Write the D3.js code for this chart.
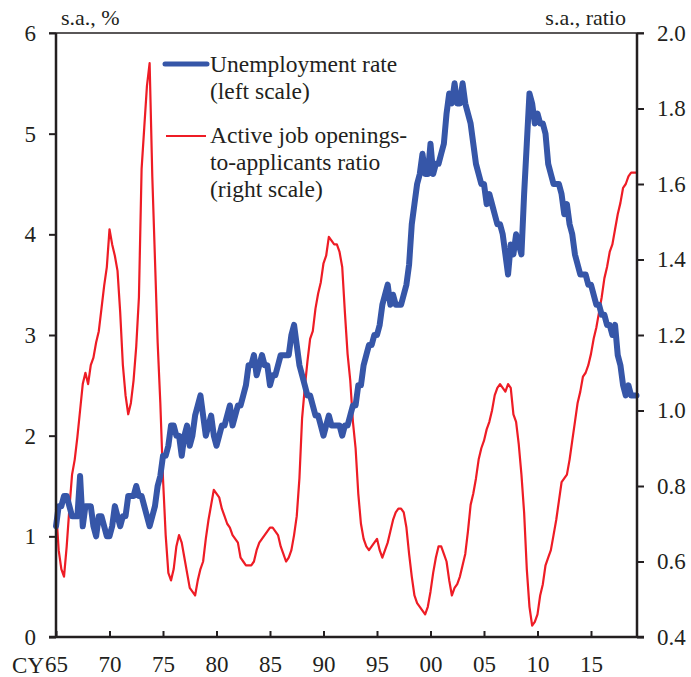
<!DOCTYPE html>
<html lang="en">
<head>
	<meta charset="UTF-8"/>
	<title>Unemployment rate and job openings-to-applicants ratio</title>
	<script src="https://d3js.org/d3.v7.min.js"></script>
	<style>
		body {
			margin: 0;
			background: #fff;
		}
		text {
			font-family: "Liberation Serif", "Times New Roman", serif;
			fill: #231f20;
		}
	</style>
</head>
<body>
	<script>
		// quarterly values, first point = 1965 Q1
		var startYear = 1965;
		var unempRate = [
			1.1,1.3,1.3,1.4,  1.4,1.3,1.2,1.2,  1.2,1.6,1.1,1.3,  1.3,1.3,1.1,1.0,
			1.2,1.2,1.1,1.0,  1.0,1.1,1.3,1.2,  1.1,1.2,1.2,1.4,  1.4,1.4,1.5,1.4,
			1.4,1.3,1.2,1.1,  1.2,1.3,1.5,1.6,  1.8,1.8,1.9,2.1,  2.1,2.0,2.0,1.8,
			2.0,2.1,1.9,2.0,  2.2,2.3,2.4,2.2,  2.0,2.1,2.2,2.0,  1.9,2.0,2.1,2.1,
			2.2,2.3,2.1,2.2,  2.3,2.3,2.4,2.5,  2.7,2.7,2.8,2.6,  2.7,2.8,2.7,2.7,
			2.5,2.6,2.6,2.7,  2.8,2.8,2.8,2.8,  3.0,3.1,2.9,2.7,  2.6,2.5,2.4,2.4,
			2.3,2.2,2.2,2.1,  2.0,2.1,2.2,2.1,  2.1,2.1,2.1,2.0,  2.1,2.1,2.2,2.3,
			2.3,2.5,2.5,2.7,  2.8,2.9,2.9,3.0,  3.0,3.1,3.3,3.4,  3.5,3.3,3.4,3.3,
			3.3,3.3,3.4,3.5,  3.7,4.1,4.3,4.5,  4.6,4.8,4.6,4.6,  4.9,4.6,4.7,4.7,
			4.8,4.9,5.2,5.4,  5.3,5.5,5.3,5.3,  5.5,5.3,5.2,5.1,  4.9,4.7,4.6,4.5,
			4.5,4.3,4.4,4.3,  4.2,4.1,4.1,4.0,  3.8,3.6,3.9,3.8,  4.0,3.9,3.8,4.4,
			4.9,5.4,5.3,5.1,  5.2,5.1,5.1,5.0,  4.7,4.6,4.5,4.5,  4.5,4.4,4.2,4.3,
			4.1,4.0,3.8,3.7,  3.6,3.6,3.6,3.5,  3.5,3.4,3.3,3.3,  3.2,3.2,3.1,3.1,
			3.0,3.1,2.8,2.7,  2.5,2.4,2.5,2.4,  2.4,2.4
		];
		var jobRatio = [
			0.74,0.63,0.58,0.56,  0.64,0.74,0.83,0.87,  0.93,1.00,1.07,1.10,  1.07,1.12,1.14,1.18,
			1.21,1.27,1.33,1.38,  1.48,1.44,1.41,1.37,  1.26,1.12,1.04,0.99,  1.02,1.08,1.17,1.30,
			1.64,1.75,1.86,1.92,  1.62,1.40,1.18,1.02,  0.82,0.67,0.57,0.55,  0.58,0.64,0.67,0.65,
			0.61,0.57,0.53,0.52,  0.51,0.55,0.58,0.60,  0.66,0.71,0.75,0.79,  0.78,0.77,0.74,0.72,
			0.70,0.69,0.67,0.66,  0.65,0.61,0.60,0.59,  0.59,0.59,0.60,0.63,  0.65,0.66,0.67,0.68,
			0.69,0.69,0.68,0.67,  0.64,0.62,0.60,0.61,  0.63,0.67,0.72,0.82,  0.98,1.06,1.13,1.19,
			1.21,1.27,1.31,1.34,  1.39,1.41,1.46,1.45,  1.44,1.44,1.42,1.38,  1.26,1.15,1.08,0.97,
			0.90,0.78,0.70,0.66,  0.64,0.63,0.64,0.65,  0.66,0.63,0.61,0.63,  0.65,0.68,0.71,0.73,
			0.74,0.74,0.73,0.69,  0.62,0.56,0.51,0.49,  0.48,0.47,0.46,0.48,  0.52,0.57,0.61,0.64,
			0.64,0.62,0.60,0.55,  0.51,0.53,0.54,0.56,  0.59,0.62,0.68,0.75,  0.78,0.82,0.87,0.90,
			0.92,0.95,0.97,1.00,  1.04,1.06,1.07,1.06,  1.05,1.07,1.06,0.99,  0.97,0.91,0.83,0.73,
			0.58,0.48,0.43,0.44,  0.46,0.51,0.54,0.59,  0.61,0.63,0.67,0.71,  0.76,0.81,0.82,0.83,
			0.87,0.92,0.97,1.02,  1.05,1.09,1.10,1.12,  1.15,1.19,1.22,1.26,  1.30,1.35,1.38,1.42,
			1.44,1.48,1.52,1.55,  1.59,1.60,1.62,1.63,  1.63,1.63
		];
		var xTickYears = [1965,1970,1975,1980,1985,1990,1995,2000,2005,2010,2015];
		var xTickLabels = ["65","70","75","80","85","90","95","00","05","10","15"];
		var leftTicks = [0,1,2,3,4,5,6];
		var rightTicks = [0.4,0.6,0.8,1.0,1.2,1.4,1.6,1.8,2.0];

		var w = 691;
		var h = 677;
		var mLeft = 56, mRight = 637, mTop = 33, mBottom = 637;
		var blue = "#3656a8";
		var red = "#ee1c25";
		var ink = "#231f20";

		var svg = d3.select("body").append("svg").attr("width",w).attr("height",h);

		var xScale = d3.scaleLinear()
						.domain([1965, 2019.3])
						.range([mLeft, mRight]);

		var yLeft = d3.scaleLinear()
						.domain([0,6])
						.range([mBottom, mTop]);

		var yRight = d3.scaleLinear()
						.domain([0.4,2.0])
						.range([mBottom, mTop]);

		// lines
		var lineU = d3.line()
			.x(function(d,i){ return xScale(startYear + i/4); })
			.y(function(d){ return yLeft(d); });

		var lineJ = d3.line()
			.x(function(d,i){ return xScale(startYear + i/4); })
			.y(function(d){ return yRight(d); });

		svg.append("path")
			.datum(jobRatio)
			.attr("d",lineJ)
			.attr("fill","none")
			.attr("stroke",red)
			.attr("stroke-width",2.2)
			.attr("stroke-linejoin","round");

		svg.append("path")
			.datum(unempRate)
			.attr("d",lineU)
			.attr("fill","none")
			.attr("stroke",blue)
			.attr("stroke-width",6)
			.attr("stroke-linejoin","round")
			.attr("stroke-linecap","round");

		// axes
		var axisLeft = d3.axisLeft(yLeft).tickValues(leftTicks).tickSize(7).tickPadding(13)
			.tickFormat(d3.format("d"));
		var axisRight = d3.axisRight(yRight).tickValues(rightTicks).tickSize(7).tickPadding(13)
			.tickFormat(d3.format(".1f"));
		var axisBottom = d3.axisBottom(xScale).tickValues(xTickYears).tickSize(-6).tickPadding(19)
			.tickFormat(function(d,i){ return xTickLabels[i]; });

		var gl = svg.append("g").attr("transform","translate(" + mLeft + ",0)").call(axisLeft);
		var gr = svg.append("g").attr("transform","translate(" + mRight + ",0)").call(axisRight);
		var gb = svg.append("g").attr("transform","translate(0," + mBottom + ")").call(axisBottom);

		[gl,gr,gb].forEach(function(g){
			g.select(".domain").remove();
			g.selectAll("line").attr("stroke",ink).attr("stroke-width",2);
			g.selectAll("text")
				.attr("font-family","Liberation Serif, Times New Roman, serif")
				.attr("font-size",23)
				.attr("fill",ink);
		});

		// frame: left, right, bottom, top
		svg.append("line").attr("x1",mLeft).attr("x2",mLeft).attr("y1",mTop).attr("y2",mBottom)
			.attr("stroke",ink).attr("stroke-width",2.5);
		svg.append("line").attr("x1",mRight).attr("x2",mRight).attr("y1",mTop).attr("y2",mBottom)
			.attr("stroke",ink).attr("stroke-width",2.5);
		svg.append("line").attr("x1",mLeft - 7).attr("x2",mRight + 7).attr("y1",mBottom).attr("y2",mBottom)
			.attr("stroke",ink).attr("stroke-width",2.5);
		svg.append("line").attr("x1",mLeft - 7).attr("x2",mRight + 7).attr("y1",mTop).attr("y2",mTop)
			.attr("stroke",ink).attr("stroke-width",1.5);

		svg.append("text").attr("x",44).attr("y",673)
			.attr("text-anchor","end").attr("font-size",23).text("CY");

		// unit labels
		svg.append("text").attr("x",61).attr("y",25).attr("font-size",22).text("s.a., %");
		svg.append("text").attr("x",626).attr("y",25).attr("text-anchor","end")
			.attr("font-size",22).text("s.a., ratio");

		// legend
		var legend = svg.append("g");
		legend.append("line").attr("x1",165).attr("x2",207).attr("y1",64).attr("y2",64)
			.attr("stroke",blue).attr("stroke-width",5).attr("stroke-linecap","round");
		legend.append("line").attr("x1",166).attr("x2",206).attr("y1",136).attr("y2",136)
			.attr("stroke",red).attr("stroke-width",2.2);

		var legendText = [
			["Unemployment rate", 72],
			["(left scale)", 99],
			["Active job openings-", 143],
			["to-applicants ratio", 170],
			["(right scale)", 197]
		];
		legend.selectAll("text.lg").data(legendText).enter().append("text")
			.attr("class","lg")
			.attr("x",210)
			.attr("y",function(d){ return d[1]; })
			.attr("font-size",23.5)
			.text(function(d){ return d[0]; });
	</script>
</body>
</html>
